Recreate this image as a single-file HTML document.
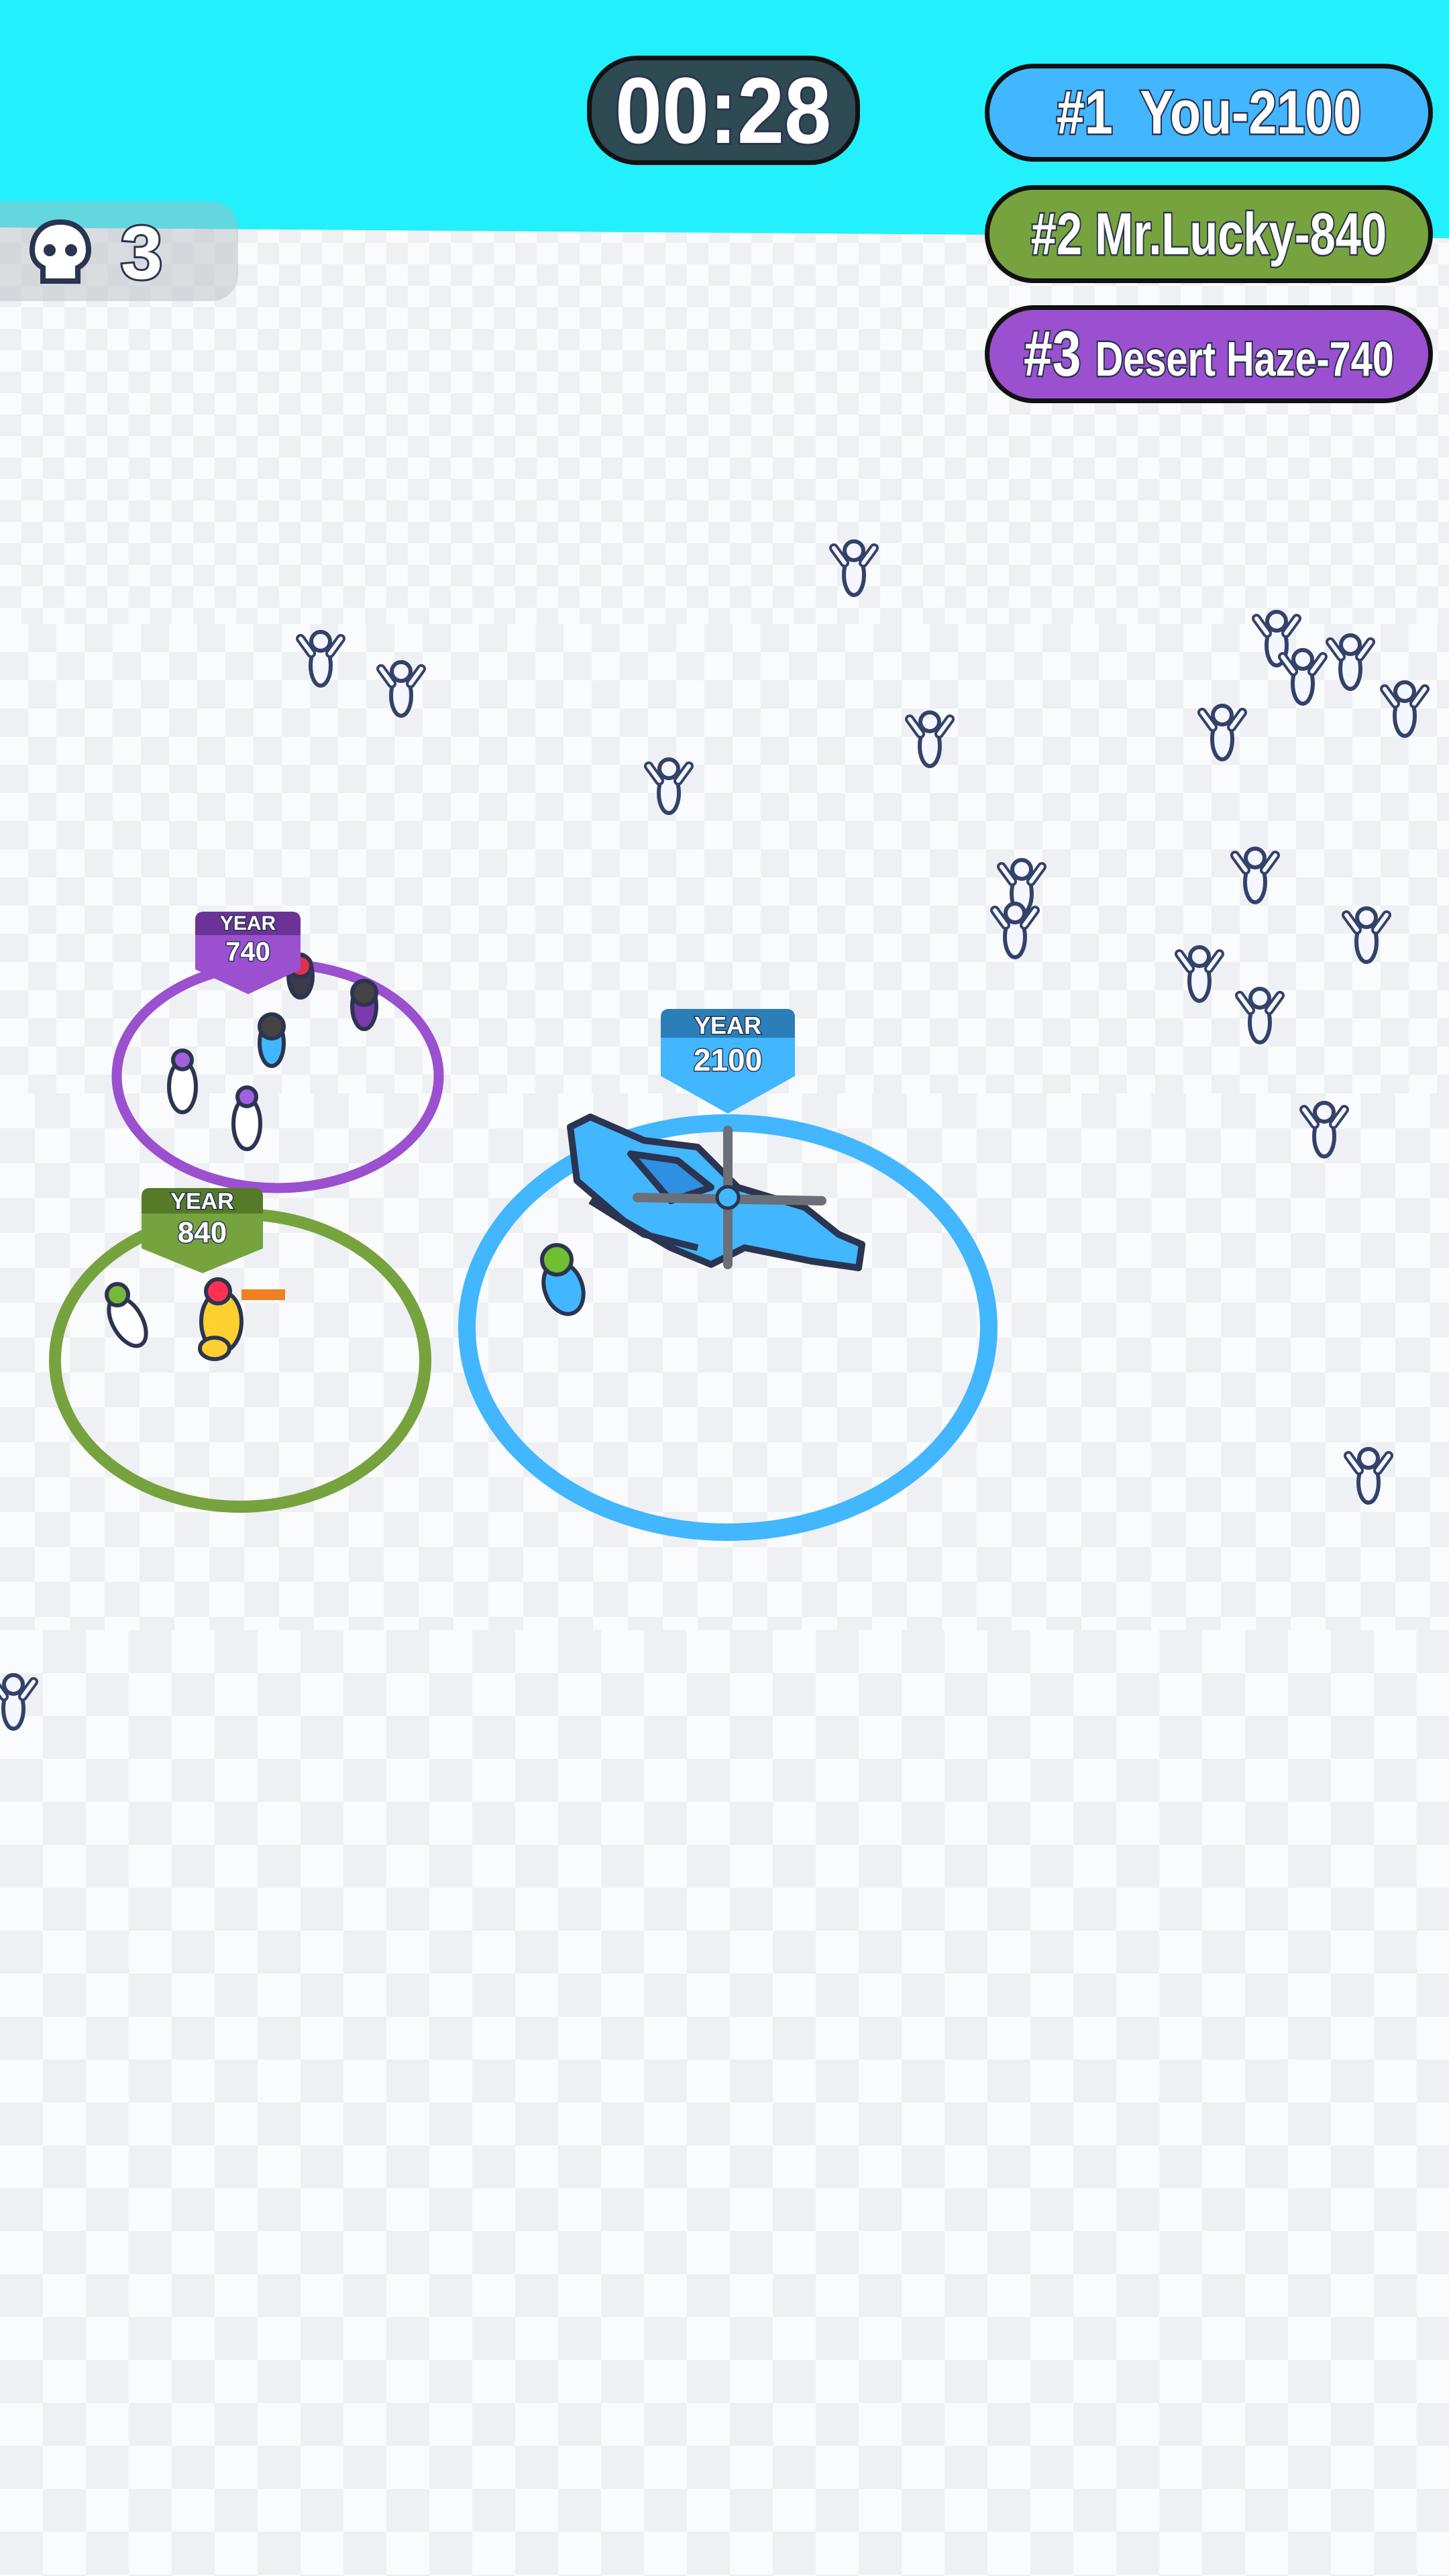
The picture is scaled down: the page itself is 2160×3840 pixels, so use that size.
<!DOCTYPE html>
<html><head><meta charset="utf-8"><style>
*{margin:0;padding:0;box-sizing:border-box}
body{width:2160px;height:3840px;position:relative;overflow:hidden;background:#fafbfc;font-family:"Liberation Sans",sans-serif}
.band{position:absolute;left:0;width:2160px;background-image:conic-gradient(#eef0f3 25%,#fafbfc 0 50%,#eef0f3 0 75%,#fafbfc 0)}
.sky{position:absolute;left:0;top:0;width:2160px;height:380px;background:#22f0fc;clip-path:polygon(0 0,2160px 0,2160px 355px,0 339px)}
.pill{position:absolute;border:7px solid #111;border-radius:75px;color:#fff;font-weight:bold;display:flex;align-items:center;justify-content:center;-webkit-text-stroke:5px #2b3450;paint-order:stroke fill;white-space:pre}
.pill span{display:inline-block;transform:scaleX(0.82)}
.tag{position:absolute;color:#fff;font-weight:bold;text-align:center;-webkit-text-stroke:3px #2b3450;paint-order:stroke fill}
</style></head><body>
<div class="band" style="top:330px;height:600px;background-size:64px 64px"></div>
<div class="band" style="top:930px;height:700px;background-size:84px 84px"></div>
<div class="band" style="top:1630px;height:800px;background-size:104px 104px"></div>
<div class="band" style="top:2430px;height:1410px;background-size:128px 128px"></div>
<div class="sky"></div>

<div style="position:absolute;left:-40px;top:300px;width:395px;height:149px;border-radius:40px;background:rgba(180,185,190,0.45)"></div>
<svg style="position:absolute;left:38px;top:325px" width="104" height="100" viewBox="0 0 104 100">
<path d="M52 6C24 6 10 26 10 48c0 14 8 22 16 26v20h52V74c8-4 16-12 16-26C94 26 80 6 52 6z" fill="#fff" stroke="#2b3450" stroke-width="8"/>
<circle cx="36" cy="48" r="9" fill="#2b3450"/><circle cx="68" cy="48" r="9" fill="#2b3450"/>
</svg>
<div class="tag" style="left:180px;top:312px;font-size:112px;-webkit-text-stroke:6px #2b3450">3</div>

<div class="pill" style="left:875px;top:83px;width:407px;height:163px;background:#2e4a52;font-size:140px;-webkit-text-stroke:6px #2b3450"><span style="transform:scaleX(0.9)">00:28</span></div>
<div class="pill" style="left:1468px;top:95px;width:668px;height:146px;background:#42b6ff;font-size:92px"><span>#1  You-2100</span></div>
<div class="pill" style="left:1468px;top:276px;width:668px;height:146px;background:#76a33e;font-size:88px"><span style="transform:scaleX(0.78)">#2 Mr.Lucky-840</span></div>
<div class="pill" style="left:1468px;top:455px;width:668px;height:146px;background:#9b50d0;font-size:72px"><span style="transform:scaleX(0.8)"><span style="font-size:96px;transform:none">#3 </span>Desert Haze-740</span></div>

<svg style="position:absolute;left:0;top:0" width="2160" height="3840">
<defs>
<g id="f"><ellipse cx="0" cy="22" rx="15" ry="30" fill="#f4f7ff" stroke="#34416a" stroke-width="6"/><circle cx="0" cy="-14" r="14" fill="#f4f7ff" stroke="#34416a" stroke-width="6"/><path d="M-14 4L-30 -18M14 4L30 -18" stroke="#34416a" stroke-width="14" stroke-linecap="round"/><path d="M-14 4L-30 -18M14 4L30 -18" stroke="#f4f7ff" stroke-width="6" stroke-linecap="round"/></g>
</defs>
<g>
<use href="#f" x="1273" y="835"/><use href="#f" x="478" y="970"/><use href="#f" x="598" y="1015"/><use href="#f" x="997" y="1160"/><use href="#f" x="1386" y="1090"/><use href="#f" x="1903" y="940"/><use href="#f" x="1942" y="997"/><use href="#f" x="2013" y="975"/><use href="#f" x="2094" y="1045"/><use href="#f" x="1822" y="1080"/><use href="#f" x="1523" y="1310"/><use href="#f" x="1513" y="1375"/><use href="#f" x="1871" y="1293"/><use href="#f" x="2037" y="1382"/><use href="#f" x="1788" y="1440"/><use href="#f" x="1878" y="1502"/><use href="#f" x="1974" y="1672"/><use href="#f" x="2040" y="2188"/><use href="#f" x="20" y="2525"/>
</g>
<ellipse cx="414" cy="1604" rx="240" ry="167" fill="none" stroke="#9b50d0" stroke-width="15"/>
<ellipse cx="358" cy="2028" rx="276" ry="218" fill="none" stroke="#76a33e" stroke-width="18"/>
<ellipse cx="1085" cy="1979" rx="389" ry="305" fill="none" stroke="#42b6ff" stroke-width="26"/>
<g stroke="#2b3450" stroke-width="6">
<ellipse cx="448" cy="1455" rx="18" ry="32" fill="#3a3a4a"/><circle cx="448" cy="1440" r="16" fill="#e03050"/>
<ellipse cx="543" cy="1500" rx="18" ry="34" fill="#7a3ab0"/><circle cx="543" cy="1480" r="18" fill="#444"/>
<ellipse cx="405" cy="1555" rx="18" ry="34" fill="#42b6ff"/><circle cx="405" cy="1530" r="18" fill="#444"/>
<ellipse cx="272" cy="1620" rx="20" ry="38" fill="#fff"/><circle cx="272" cy="1580" r="14" fill="#a060e0"/>
<ellipse cx="368" cy="1675" rx="20" ry="38" fill="#fff"/><circle cx="368" cy="1635" r="14" fill="#a060e0"/>
<ellipse cx="190" cy="1970" rx="22" ry="40" fill="#fff" transform="rotate(-30 190 1970)"/><circle cx="175" cy="1930" r="16" fill="#76b83a"/>
<ellipse cx="330" cy="1970" rx="30" ry="45" fill="#ffd030"/><circle cx="325" cy="1925" r="18" fill="#ff3050"/>
<path d="M360 1930L425 1930" stroke-width="16" stroke="#f08020"/>
<ellipse cx="320" cy="2010" rx="22" ry="16" fill="#ffd030"/>
<ellipse cx="840" cy="1920" rx="28" ry="40" fill="#42b6ff" transform="rotate(-20 840 1920)"/><circle cx="830" cy="1878" r="22" fill="#6fbf30"/>
</g>
<g stroke="#2b3450" stroke-width="10" stroke-linejoin="round">
<path d="M850 1680L880 1665L960 1700L1040 1710L1100 1770L1200 1800L1250 1840L1285 1855L1280 1890L1210 1880L1110 1860L1060 1885L1000 1860L930 1820L860 1760Z" fill="#42b6ff"/>
<path d="M940 1720L1010 1730L1060 1770L1000 1790Z" fill="#2f8fe0"/>
<path d="M880 1790L960 1840L1040 1860" fill="none"/>
</g>
<g stroke="#6b6f78" stroke-width="14" stroke-linecap="round">
<path d="M1085 1685L1085 1885"/><path d="M950 1785L1225 1790"/>
</g>
<circle cx="1085" cy="1785" r="16" fill="#42b6ff" stroke="#2b3450" stroke-width="5"/>
<path d="M291 1372q0-13 13-13h131q13 0 13 13v73l-78 37l-79-37z" fill="#9b50d0"/>
<path d="M291 1372q0-13 13-13h131q13 0 13 13v22h-157z" fill="#6b3398"/>
<path d="M211 1784q0-13 13-13h155q13 0 13 13v77l-90 37l-91-37z" fill="#76a33e"/>
<path d="M211 1784q0-13 13-13h155q13 0 13 13v25h-181z" fill="#557a28"/>
<path d="M985 1517q0-13 13-13h174q13 0 13 13v87l-100 56l-100-56z" fill="#42b6ff"/>
<path d="M985 1517q0-13 13-13h174q13 0 13 13v30h-200z" fill="#2a7fb8"/>
</svg>
<div class="tag" style="left:291px;top:1360px;width:157px;font-size:30px">YEAR</div>
<div class="tag" style="left:291px;top:1397px;width:157px;font-size:40px">740</div>
<div class="tag" style="left:211px;top:1772px;width:181px;font-size:34px">YEAR</div>
<div class="tag" style="left:211px;top:1813px;width:181px;font-size:44px">840</div>
<div class="tag" style="left:985px;top:1508px;width:200px;font-size:36px">YEAR</div>
<div class="tag" style="left:985px;top:1553px;width:200px;font-size:46px">2100</div>
</body></html>
